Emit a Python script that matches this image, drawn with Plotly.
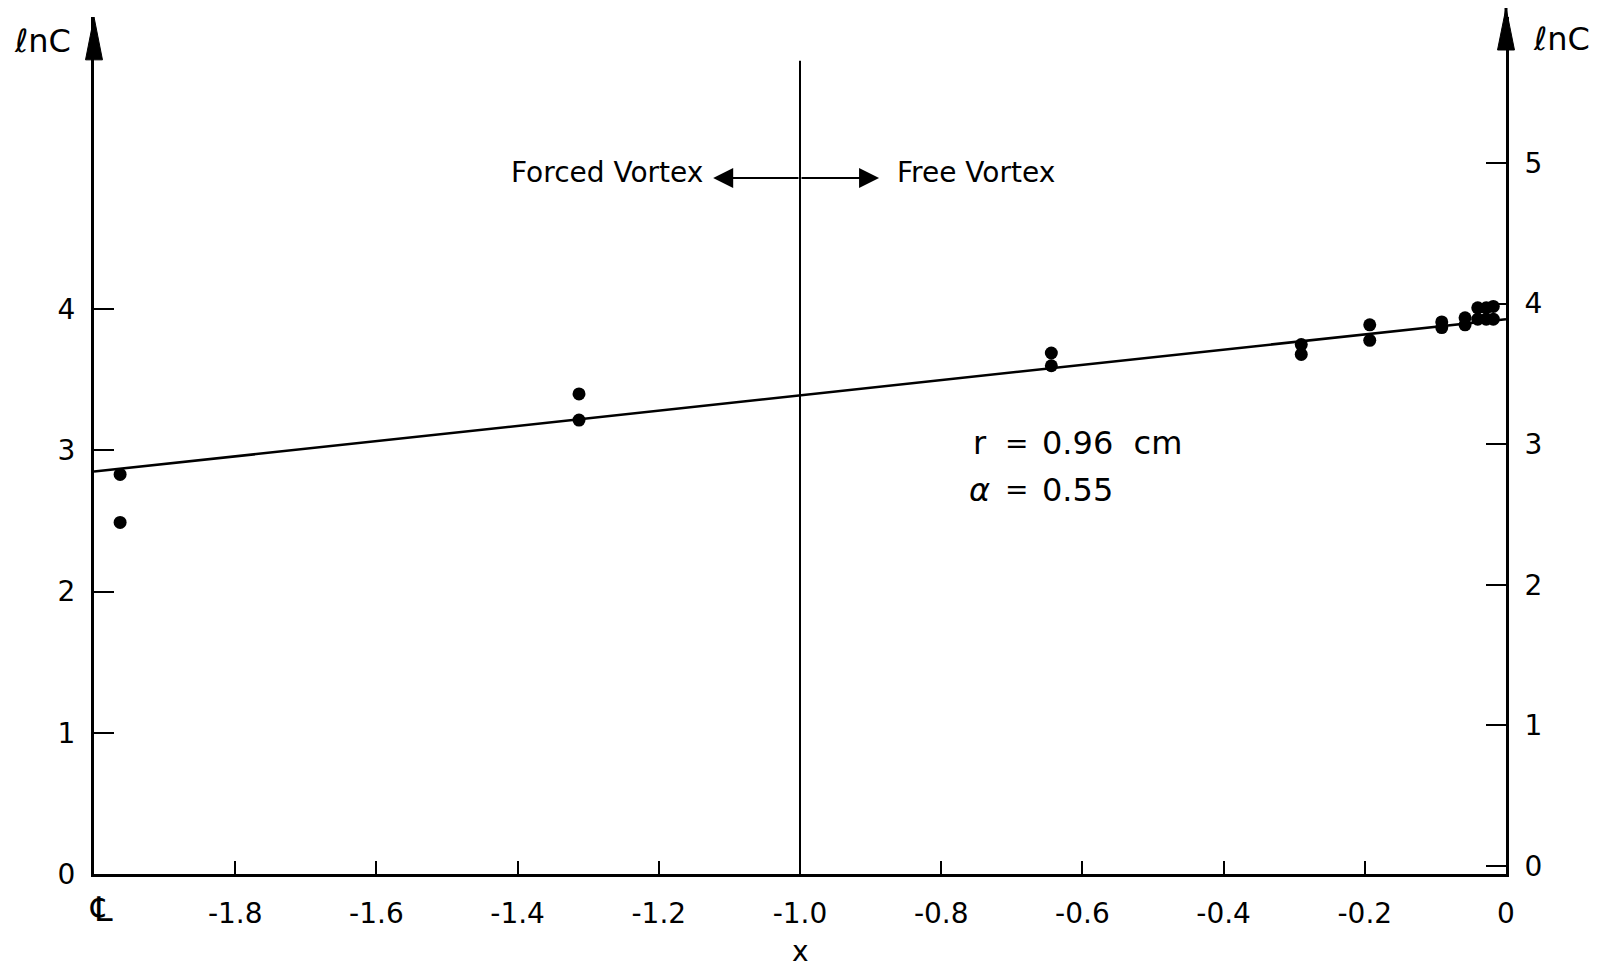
import plotly.graph_objects as go

# ---- data ----
pt_x = [-1.963, -1.963, -1.313, -1.313, -0.644, -0.644, -0.29, -0.29, -0.193, -0.193,
        -0.091, -0.091, -0.058, -0.058, -0.040, -0.040, -0.028, -0.028, -0.018, -0.018]
pt_y = [2.83, 2.49, 3.40, 3.215, 3.69, 3.60, 3.75, 3.68, 3.89, 3.78,
        3.91, 3.87, 3.94, 3.89, 4.01, 3.93, 4.01, 3.93, 4.02, 3.93]
fit_x = [-2.0, 0.0]
fit_y = [2.85, 3.93]
divider_x = [-1.0, -1.0]
divider_y = [0.0, 5.76]
x_tickvals = [-1.8, -1.6, -1.4, -1.2, -1.0, -0.8, -0.6, -0.4, -0.2, 0.0]
x_ticktext = ["-1.8", "-1.6", "-1.4", "-1.2", "-1.0", "-0.8", "-0.6", "-0.4", "-0.2", "0"]
yl_tickvals = [0, 1, 2, 3, 4]
yr_tickvals = [0, 1, 2, 3, 4, 5]

FONT = "DejaVu Sans"
FS = 28

fig = go.Figure()
fig.add_trace(go.Scatter(x=fit_x, y=fit_y, mode="lines",
                         line=dict(color="black", width=2.5), showlegend=False))
fig.add_trace(go.Scatter(x=divider_x, y=divider_y, mode="lines",
                         line=dict(color="black", width=2), showlegend=False))
fig.add_trace(go.Scatter(x=pt_x, y=pt_y, mode="markers",
                         marker=dict(color="black", size=13), showlegend=False))
fig.add_trace(go.Scatter(x=[None], y=[None], yaxis="y2", showlegend=False))

axis_common = dict(showgrid=False, zeroline=False, showline=True, linecolor="black",
                   linewidth=3, ticks="inside", tickcolor="black", tickwidth=2,
                   tickfont=dict(family=FONT, size=FS, color="black"))

fig.update_layout(
    width=1604, height=968,
    margin=dict(l=94, r=98, t=17, b=94),
    paper_bgcolor="white", plot_bgcolor="white",
    xaxis=dict(range=[-2.0, 0.0], tickvals=x_tickvals, ticktext=x_ticktext,
               ticklen=13, ticklabelstandoff=12, **axis_common),
    yaxis=dict(range=[0, 6.07], tickvals=yl_tickvals, ticklen=20,
               ticklabelstandoff=10, **axis_common),
    yaxis2=dict(range=[-0.057, 6.038], tickvals=yr_tickvals, ticklen=20,
                overlaying="y", side="right", anchor="x",
                ticklabelstandoff=10, **axis_common),
    showlegend=False,
)

# axis arrowheads
fig.add_shape(type="path", xref="paper", yref="paper",
              path="M -0.006 0.95 L 0 1.0 L 0.006 0.95 Z",
              fillcolor="black", line=dict(color="black", width=1))
fig.add_shape(type="path", xref="paper", yref="paper",
              path="M 0.994 0.9615 L 1 1.0105 L 1.006 0.9615 Z",
              fillcolor="black", line=dict(color="black", width=1))
fig.add_shape(type="line", xref="paper", yref="paper", x0=1, x1=1, y0=0.99, y1=1.0105,
              line=dict(color="black", width=3))

tf = dict(family=FONT, size=FS, color="black")
tb = dict(family=FONT, size=32, color="black")


def px(xp):
    return (xp - 94) / 1412


def py(yp):
    return (874 - yp) / 857


anns = [
    dict(xref="paper", yref="paper", x=px(12), y=py(41), text="\u2113nC",
         xanchor="left", yanchor="middle", font=tb),
    dict(xref="paper", yref="paper", x=px(1531), y=py(39), text="\u2113nC",
         xanchor="left", yanchor="middle", font=tb),
    dict(xref="paper", yref="paper", x=px(101), y=py(909), text="\u2104",
         xanchor="center", yanchor="middle", font=dict(family=FONT, size=34, color="black")),
    dict(xref="x", yref="paper", x=-1.0, y=py(951), text="x",
         xanchor="center", yanchor="middle", font=tf),
    dict(xref="x", yref="y", x=-1.135, y=4.97, text="Forced Vortex",
         xanchor="right", yanchor="middle", font=tf),
    dict(xref="x", yref="y", x=-0.865, y=4.97, text="Free Vortex",
         xanchor="left", yanchor="middle", font=tf),
    dict(xref="x", yref="y", x=-0.758, y=3.05, text="r", xanchor="left", yanchor="middle", font=tb),
    dict(xref="x", yref="y", x=-0.712, y=3.05, text="=", xanchor="left", yanchor="middle", font=tf),
    dict(xref="x", yref="y", x=-0.660, y=3.05, text="0.96&nbsp;&nbsp;cm", xanchor="left",
         yanchor="middle", font=tb),
    dict(xref="x", yref="y", x=-0.764, y=2.72, text="<i>\u03b1</i>", xanchor="left",
         yanchor="middle", font=tb),
    dict(xref="x", yref="y", x=-0.712, y=2.72, text="=", xanchor="left", yanchor="middle", font=tf),
    dict(xref="x", yref="y", x=-0.660, y=2.72, text="0.55", xanchor="left", yanchor="middle",
         font=tb),
]
for a in anns:
    fig.add_annotation(showarrow=False, **a)

# divider arrows
for tip in (-1.123, -0.888):
    fig.add_annotation(x=tip, y=4.93, ax=-1.0, ay=4.93, xref="x", yref="y", axref="x", ayref="y",
                       text="", showarrow=True, arrowhead=2, arrowsize=2.0, arrowwidth=2,
                       arrowcolor="black")

fig.write_html("out.html")
